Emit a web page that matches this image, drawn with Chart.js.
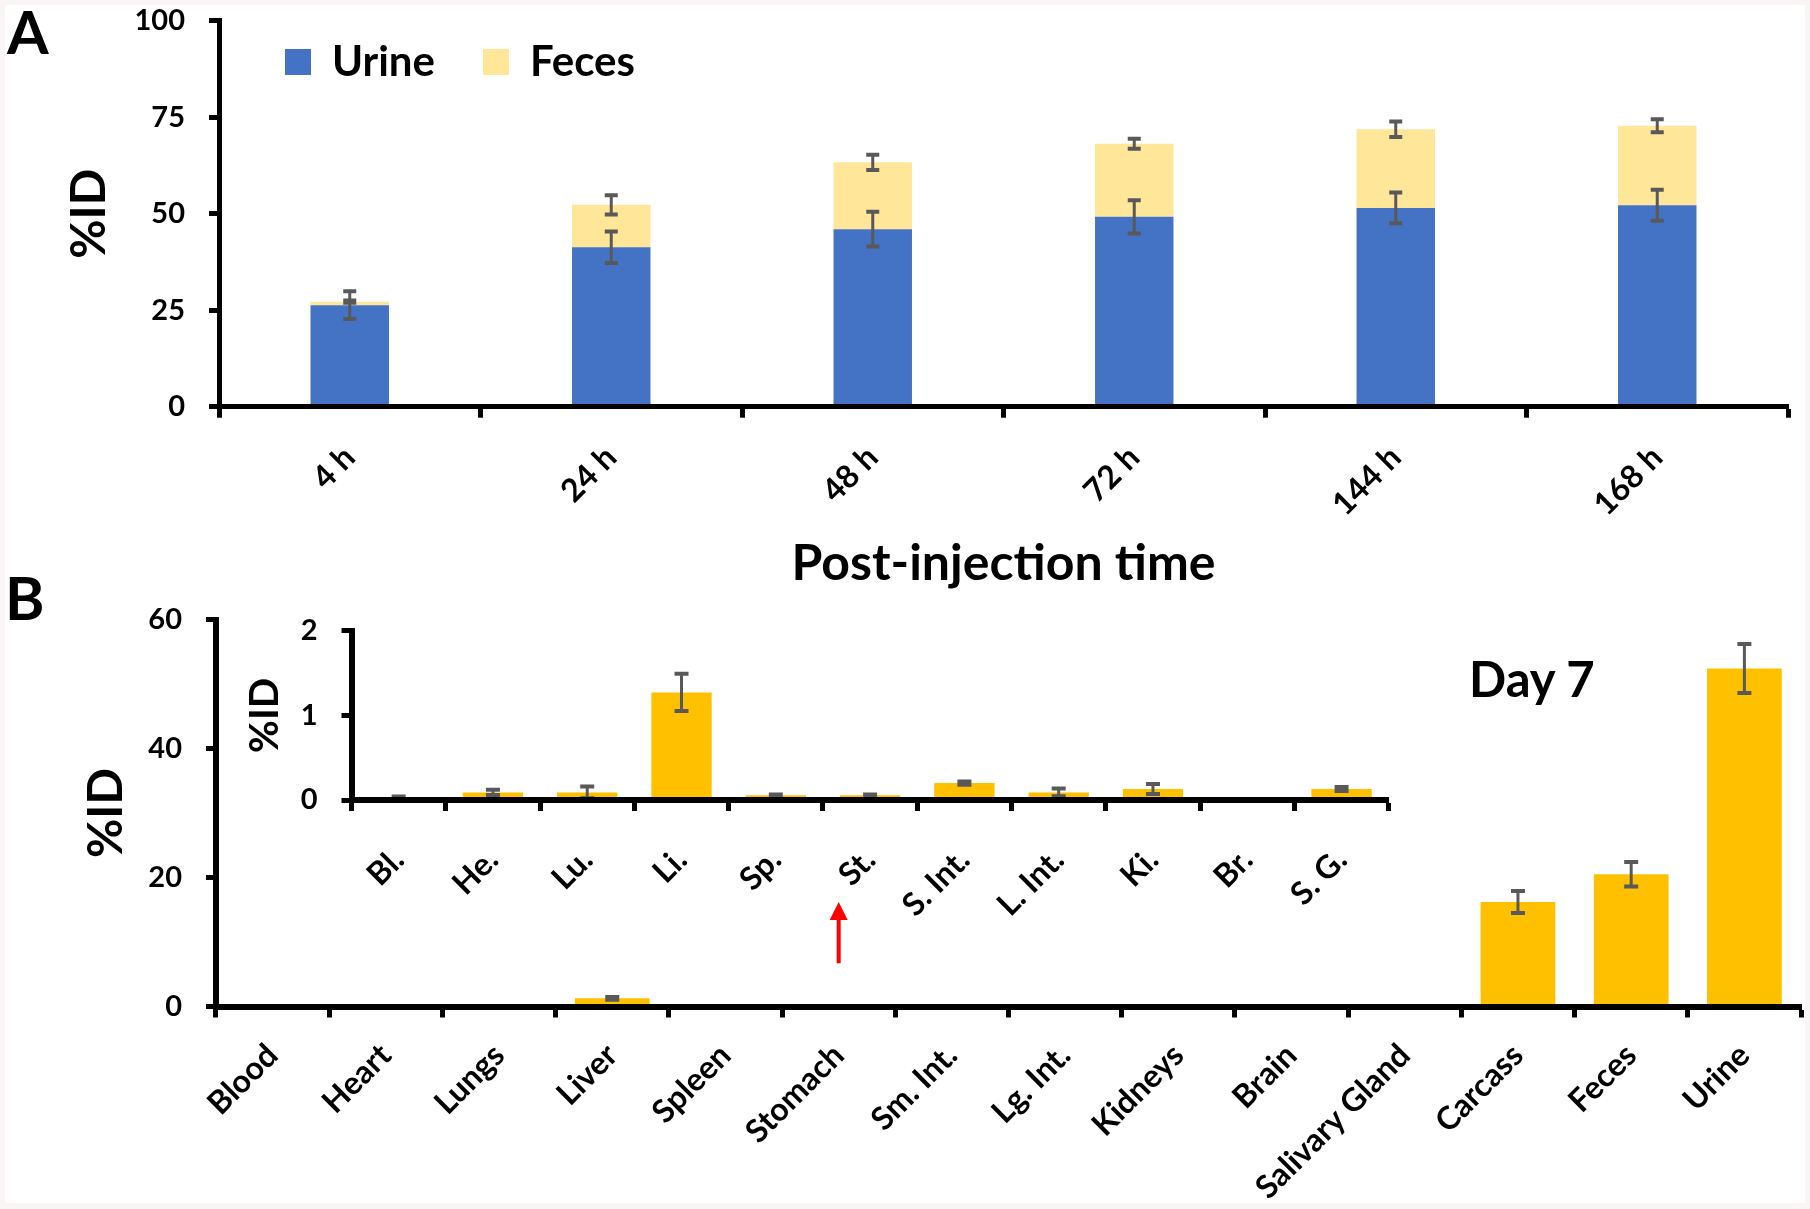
<!DOCTYPE html>
<html>
<head>
<meta charset="utf-8">
<script src="https://cdn.jsdelivr.net/npm/chart.js@4.4.1/dist/chart.umd.min.js"></script>
<style>
html,body{margin:0;padding:0;}
body{width:1810px;height:1209px;background:#f8f5f4;position:relative;overflow:hidden;font-family:Lato,sans-serif;}
#sheet{position:absolute;left:5px;top:5px;width:1800px;height:1198px;background:#fff;}
canvas{position:absolute;}
.lbl{position:absolute;font-weight:700;line-height:1;color:#000;white-space:nowrap;font-family:Lato,sans-serif;}
</style>
</head>
<body>
<div id="sheet"></div>
<canvas id="cA" width="1810" height="600" style="left:0;top:0;width:1810px;height:600px"></canvas>
<canvas id="cB" width="1810" height="605" style="left:0;top:600px;width:1810px;height:605px"></canvas>
<canvas id="cI" width="1240" height="340" style="left:180px;top:600px;width:1240px;height:340px"></canvas>
<div class="lbl" style="left:7px;top:1px;font-size:60px">A</div>
<div class="lbl" style="left:5px;top:567px;font-size:60px">B</div>
<div class="lbl" style="left:1469px;top:654px;font-size:49px">Day 7</div>
<script>
// ---------- Panel A data ----------
const timeLabels = ['4 h', '24 h', '48 h', '72 h', '144 h', '168 h'];
const urineValues = [26.3, 41.3, 46.0, 49.2, 51.5, 52.2];
const urineErrors = [3.6, 4.1, 4.5, 4.3, 4.0, 4.0];
const fecesValues = [0.9, 11.0, 17.3, 18.9, 20.4, 20.6];
const fecesErrors = [0.3, 2.5, 2.0, 1.3, 2.0, 1.7];
const timeTicks = [0, 25, 50, 75, 100];

// ---------- Panel B data ----------
const organLabels = ['Blood', 'Heart', 'Lungs', 'Liver', 'Spleen', 'Stomach', 'Sm. Int.', 'Lg. Int.', 'Kidneys', 'Brain', 'Salivary Gland', 'Carcass', 'Feces', 'Urine'];
const organValues = [0.03, 0.09, 0.09, 1.27, 0.055, 0.055, 0.20, 0.09, 0.13, 0, 0.13, 16.2, 20.5, 52.4];
const organErrors = [0.01, 0.03, 0.07, 0.22, 0.01, 0.01, 0.02, 0.045, 0.06, 0, 0.025, 1.7, 1.9, 3.8];
const organTicks = [0, 20, 40, 60];

// ---------- Inset data ----------
const insetLabels = ['Bl.', 'He.', 'Lu.', 'Li.', 'Sp.', 'St.', 'S. Int.', 'L. Int.', 'Ki.', 'Br.', 'S. G.'];
const insetValues = [0.03, 0.09, 0.09, 1.27, 0.055, 0.055, 0.20, 0.09, 0.13, 0, 0.13];
const insetErrors = [0.01, 0.03, 0.07, 0.22, 0.01, 0.01, 0.02, 0.045, 0.06, 0, 0.025];
const insetTicks = [0, 1, 2];

// annotation arrow (category and value range on main panel B)
const arrowCategory = 'Stomach';
const arrowFrom = 6.7;
const arrowTo = 16.2;

Chart.defaults.font.family = 'Lato, sans-serif';
Chart.defaults.font.weight = 'bold';
Chart.defaults.color = '#000';

const errorBarPlugin = {
  id: 'errorBars',
  afterDatasetsDraw(chart, args, opts) {
    const ctx = chart.ctx;
    const ys = chart.scales.y;
    const lw = opts.lineWidth || 3;
    const base0 = ys.getPixelForValue(0);
    ctx.save();
    ctx.strokeStyle = opts.color || '#595959';
    chart.data.datasets.forEach((ds, di) => {
      const errs = ds.errors;
      if (!errs) return;
      const meta = chart.getDatasetMeta(di);
      meta.data.forEach((bar, i) => {
        const e = errs[i];
        if (!e) return;
        let base = 0;
        if (opts.stacked) {
          for (let k = 0; k < di; k++) base += chart.data.datasets[k].data[i];
        }
        const v = base + ds.data[i];
        const y1 = ys.getPixelForValue(v + e);
        const y2 = ys.getPixelForValue(v - e);
        if (opts.minPx && base0 - y1 < opts.minPx) return;
        const x = bar.x;
        const c = (opts.cap || 12) / 2;
        ctx.lineWidth = lw;
        ctx.beginPath();
        ctx.moveTo(x, y1); ctx.lineTo(x, y2);
        ctx.stroke();
        ctx.lineWidth = lw + 1;
        ctx.beginPath();
        ctx.moveTo(x - c, y1); ctx.lineTo(x + c, y1);
        ctx.moveTo(x - c, y2); ctx.lineTo(x + c, y2);
        ctx.stroke();
      });
    });
    ctx.restore();
  }
};

// keeps a horizontal row legend inside the plot area at a chosen spot
const legendPlace = {
  id: 'legendPlace',
  beforeUpdate(chart) {
    if (chart.legend) chart.legend.isHorizontal = () => true;
  },
  afterLayout(chart, args, opts) {
    const lg = chart.legend;
    if (!lg || opts.left === undefined) return;
    const w = lg.width, h = lg.height;
    lg.left = opts.left; lg.top = opts.top;
    lg.right = lg.left + w; lg.bottom = lg.top + h;
  }
};

const arrowPlugin = {
  id: 'arrowMark',
  afterDatasetsDraw(chart, args, opts) {
    if (!opts.category) return;
    const ctx = chart.ctx;
    const x = chart.scales.x.getPixelForValue(chart.data.labels.indexOf(opts.category));
    const yTip = chart.scales.y.getPixelForValue(opts.to);
    const yTail = chart.scales.y.getPixelForValue(opts.from);
    const head = 18, hw = 9;
    ctx.save();
    ctx.strokeStyle = opts.color; ctx.fillStyle = opts.color;
    ctx.lineWidth = 4;
    ctx.beginPath(); ctx.moveTo(x, yTail); ctx.lineTo(x, yTip + head - 1); ctx.stroke();
    ctx.beginPath(); ctx.moveTo(x, yTip); ctx.lineTo(x - hw, yTip + head); ctx.lineTo(x + hw, yTip + head); ctx.closePath(); ctx.fill();
    ctx.restore();
  }
};

function yAxis(ticks, max, widthPx, titleSize, titlePad, borderW) {
  return {
    min: 0, max: max,
    afterBuildTicks: (s) => { s.ticks = ticks.map(v => ({value: v})); },
    afterFit: (s) => { s.width = widthPx; s.paddingTop = 0; s.paddingBottom = 0; },
    ticks: {font: {size: 29, weight: 'bold'}, color: '#000', padding: 24},
    grid: {display: true, drawOnChartArea: false, drawTicks: true, tickLength: 10, tickWidth: 5, tickColor: '#000', color: '#000'},
    border: {display: true, color: '#000', width: borderW},
    title: {display: true, text: '%ID', color: '#000', font: {size: titleSize, weight: 'bold'}, padding: {top: titlePad, bottom: 0}}
  };
}

function xAxis(heightPx, pad, borderW, stacked) {
  return {
    stacked: stacked,
    z: 1,
    afterFit: (s) => { s.height = heightPx; },
    ticks: {font: {size: 32, weight: 'bold'}, color: '#000', minRotation: 45, maxRotation: 45, autoSkip: false, padding: pad},
    grid: {display: true, offset: true, drawOnChartArea: false, drawTicks: true, tickLength: 11, tickWidth: 5, tickColor: '#000', color: '#000'},
    border: {display: true, color: '#000', width: borderW, z: 1}
  };
}

// ---------- Chart A ----------
const xA = xAxis(193.3, 21, 5, true);
xA.title = {display: true, text: 'Post-injection time', color: '#000', font: {size: 50, weight: 'bold'}, padding: {top: 0, bottom: 6}};
const yA = yAxis(timeTicks, 100, 219, 48, 61, 5);
yA.stacked = true;

new Chart(document.getElementById('cA'), {
  type: 'bar',
  data: {
    labels: timeLabels,
    datasets: [
      {label: 'Urine', data: urineValues, errors: urineErrors, backgroundColor: '#4472C4', borderWidth: 0, categoryPercentage: 1, barPercentage: 0.3},
      {label: 'Feces', data: fecesValues, errors: fecesErrors, backgroundColor: '#FFE699', borderWidth: 0, categoryPercentage: 1, barPercentage: 0.3}
    ]
  },
  options: {
    responsive: false, animation: false, devicePixelRatio: 1,
    layout: {padding: {left: 0, right: 22, top: 20.7, bottom: 0}},
    scales: {x: xA, y: yA},
    plugins: {
      legend: {display: true, position: 'chartArea', align: 'start',
        labels: {font: {size: 42, weight: 'bold'}, color: '#000', boxWidth: 26, boxHeight: 26, padding: 48}},
      legendPlace: {left: 237, top: -7},
      tooltip: {enabled: false},
      errorBars: {stacked: true, cap: 13, lineWidth: 3, color: '#595959'}
    }
  },
  plugins: [errorBarPlugin, legendPlace]
});

// ---------- Chart B main ----------
new Chart(document.getElementById('cB'), {
  type: 'bar',
  data: {
    labels: organLabels,
    datasets: [
      {label: 'Day 7', data: organValues, errors: organErrors, backgroundColor: '#FFC000', borderWidth: 0, categoryPercentage: 1, barPercentage: 0.66}
    ]
  },
  options: {
    responsive: false, animation: false, devicePixelRatio: 1,
    layout: {padding: {left: 0, right: 9, top: 19.5, bottom: 0}},
    scales: {x: xAxis(198.5, 19, 6, false), y: yAxis(organTicks, 60, 216, 48, 78, 6)},
    plugins: {
      legend: {display: false}, tooltip: {enabled: false},
      errorBars: {stacked: false, cap: 14, lineWidth: 3, color: '#595959', minPx: 5},
      arrowMark: {category: arrowCategory, from: arrowFrom, to: arrowTo, color: '#FF0000'}
    }
  },
  plugins: [errorBarPlugin, arrowPlugin]
});

// ---------- Inset ----------
new Chart(document.getElementById('cI'), {
  type: 'bar',
  data: {
    labels: insetLabels,
    datasets: [
      {label: 'Day 7', data: insetValues, errors: insetErrors, backgroundColor: '#FFC000', borderWidth: 0, categoryPercentage: 1, barPercentage: 0.64}
    ]
  },
  options: {
    responsive: false, animation: false, devicePixelRatio: 1,
    layout: {padding: {left: 0, right: 31.3, top: 30.7, bottom: 0}},
    scales: {x: xAxis(140, 30, 6, false), y: yAxis(insetTicks, 2, 171.5, 40, 61.5, 6)},
    plugins: {
      legend: {display: false}, tooltip: {enabled: false},
      errorBars: {stacked: false, cap: 14, lineWidth: 3, color: '#595959'}
    }
  },
  plugins: [errorBarPlugin]
});
</script>
</body>
</html>
